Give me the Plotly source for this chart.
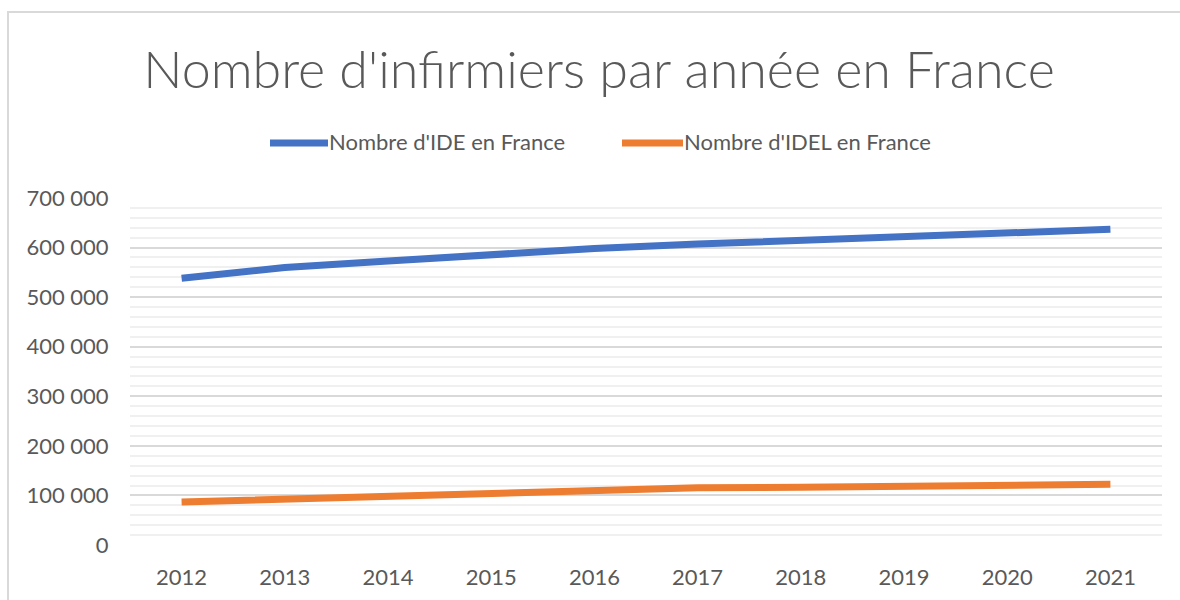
import plotly.graph_objects as go

years = [2012, 2013, 2014, 2015, 2016, 2017, 2018, 2019, 2020, 2021]
ide = [538000, 560000, 573000, 586000, 598000, 607000, 615000, 624000, 631000, 637000]
idel = [86500, 93000, 98500, 103500, 109000, 115500, 116500, 118000, 120000, 122500]
series_names = ["Nombre d'IDE en France", "Nombre d'IDEL en France"]
colors = ["#4472C4", "#ED7D31"]
y_tickvals = [0, 100000, 200000, 300000, 400000, 500000, 600000, 700000]
y_ticktext = ["0", "100 000", "200 000", "300 000", "400 000", "500 000", "600 000", "700 000"]
title_text = "Nombre d'infirmiers par année en France"

W, H = 1180, 600
L, R, T, B = 130, 18, 198, 55
pw, ph = W - L - R, H - T - B

def px(x):
    return (x - L) / pw

def py(y):
    return (H - B - y) / ph

FONT = "Lato"
GREY = "#595959"

fig = go.Figure()
for name, vals, col in zip(series_names, [ide, idel], colors):
    fig.add_trace(go.Scatter(x=years, y=vals, mode="lines", name=name,
                             line=dict(color=col, width=7), showlegend=False))

shapes = [
    # outer chart border (top + left)
    dict(type="rect", xref="paper", yref="paper", x0=px(8), x1=px(1400),
         y0=py(800), y1=py(12), line=dict(color="#d9d9d9", width=2), layer="below"),
]
annotations = []
leg = [(270, 328, 331), (622, 683, 686)]
for (x0, x1, tx), name, col in zip(leg, series_names, colors):
    shapes.append(dict(type="line", xref="paper", yref="paper", x0=px(x0), x1=px(x1),
                       y0=py(143), y1=py(143), line=dict(color=col, width=7)))
    annotations.append(dict(xref="paper", yref="paper", x=px(tx - 4), y=py(141), text=name,
                            showarrow=False, xanchor="left", yanchor="middle",
                            font=dict(family=FONT, size=22, color=GREY)))

fig.update_layout(
    width=W, height=H,
    margin=dict(l=L, r=R, t=T, b=B),
    paper_bgcolor="white", plot_bgcolor="white",
    title=dict(text=title_text, x=599 / W, xref="container", xanchor="center",
               y=1 - 70 / H, yref="container", yanchor="middle",
               font=dict(family=FONT, size=52, color=GREY, weight=300)),
    shapes=shapes, annotations=annotations,
    xaxis=dict(range=[2011.5, 2021.5], tickvals=years, ticktext=[str(y) for y in years],
               showgrid=False, zeroline=False, showline=False, automargin=False,
               ticks="outside", ticklen=13, tickcolor="rgba(0,0,0,0)",
               tickfont=dict(family=FONT, size=22, color=GREY), fixedrange=True),
    yaxis=dict(range=[0, 700000], tickvals=y_tickvals, ticktext=y_ticktext,
               showgrid=True, gridcolor="#d9d9d9", gridwidth=2,
               zeroline=False, showline=False, automargin=False,
               ticks="outside", ticklen=16, tickcolor="rgba(0,0,0,0)",
               minor=dict(dtick=20000, showgrid=True, gridcolor="#f0f0f0", gridwidth=2),
               tickfont=dict(family=FONT, size=22, color=GREY), fixedrange=True),
)

fig.write_html("out.html", config={"displayModeBar": False},
               post_script="document.body.style.margin='0';document.body.style.overflow='hidden';")
